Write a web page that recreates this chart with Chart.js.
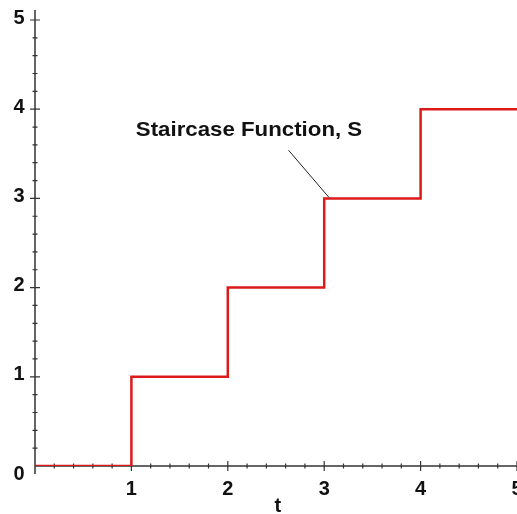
<!DOCTYPE html>
<html>
<head>
<meta charset="utf-8">
<script src="https://cdn.jsdelivr.net/npm/chart.js@4"></script>
<style>
  html, body { margin: 0; padding: 0; background: #fff; }
  canvas { display: block; }
</style>
</head>
<body>
<canvas id="stairChart" width="517" height="514"></canvas>
<script>
// data
const tValues = [0, 1, 2, 3, 4, 5];
const sValues = [0, 1, 2, 3, 4, 4];
const xTickValues = [1, 2, 3, 4, 5];
const xTickLabels = ['1', '2', '3', '4', '5'];
const yTickValues = [0, 1, 2, 3, 4, 5];
const yTickLabels = ['0', '1', '2', '3', '4', '5'];
const axisLabel = 't';
const curveLabel = 'Staircase Function, S';

const MINOR = 0.2;
const TICK_FONT = 'bold 20px "Liberation Sans", Arial, sans-serif';
const NOTE_FONT = 'bold 21px "Liberation Sans", Arial, sans-serif';

function wideText(ctx, str, x, y, stretch) {
  ctx.save();
  ctx.translate(x, y);
  ctx.scale(stretch || 1, 1);
  ctx.fillText(str, 0, 0);
  ctx.restore();
}

const axesPlugin = {
  id: 'mapleAxes',
  beforeDatasetsDraw(chart) {
    const { ctx, scales: { x, y }, chartArea } = chart;
    const x0 = x.getPixelForValue(0);
    const y0 = y.getPixelForValue(0);
    ctx.save();
    ctx.strokeStyle = '#333';
    ctx.lineWidth = 1.5;
    ctx.beginPath();
    // axes
    ctx.moveTo(x0, chartArea.top - 10);
    ctx.lineTo(x0, y0 + 8);
    ctx.moveTo(x0, y0);
    ctx.lineTo(chart.width, y0);
    ctx.stroke();

    ctx.lineWidth = 1.2;
    ctx.beginPath();
    for (let v = MINOR; v <= 5.001; v += MINOR) {
      const major = Math.abs(v - Math.round(v)) < 0.01;
      const len = major ? 5 : 2.5;
      const px = x.getPixelForValue(v);
      ctx.moveTo(px, y0 - len);
      ctx.lineTo(px, y0 + len);
      const py = y.getPixelForValue(v);
      ctx.moveTo(x0 - len, py);
      ctx.lineTo(x0 + len, py);
    }
    ctx.stroke();
    ctx.restore();
  },
  afterDraw(chart) {
    const { ctx, scales: { x, y } } = chart;
    const x0 = x.getPixelForValue(0);
    const y0 = y.getPixelForValue(0);
    ctx.save();
    ctx.fillStyle = '#111';
    ctx.font = TICK_FONT;
    ctx.textAlign = 'center';
    ctx.textBaseline = 'middle';

    yTickValues.forEach((v, i) => {
      const py = y.getPixelForValue(v) + (v === 0 ? 8 : -2);
      wideText(ctx, yTickLabels[i], x0 - 16, py);
    });
    xTickValues.forEach((v, i) => {
      wideText(ctx, xTickLabels[i], x.getPixelForValue(v), y0 + 23);
    });
    wideText(ctx, axisLabel, x.getPixelForValue(2.52), y0 + 40);

    // curve annotation
    ctx.font = NOTE_FONT;
    wideText(ctx, curveLabel, x.getPixelForValue(2.22), y.getPixelForValue(3.77), 1.06);
    ctx.strokeStyle = '#222';
    ctx.lineWidth = 1;
    ctx.beginPath();
    ctx.moveTo(x.getPixelForValue(2.63), y.getPixelForValue(3.54));
    ctx.lineTo(x.getPixelForValue(3.05), y.getPixelForValue(3.01));
    ctx.stroke();
    ctx.restore();
  }
};

const ctx = document.getElementById('stairChart').getContext('2d');
new Chart(ctx, {
  type: 'line',
  data: {
    datasets: [{
      label: curveLabel,
      data: tValues.map((t, i) => ({ x: t, y: sValues[i] })),
      borderColor: '#dd1a1a',
      borderWidth: 2.5,
      stepped: true,
      fill: false,
      pointRadius: 0
    }]
  },
  options: {
    responsive: false,
    animation: false,
    devicePixelRatio: 1,
    layout: { padding: { left: 35, top: 20, right: 0, bottom: 48 } },
    plugins: {
      legend: { display: false },
      tooltip: { enabled: false }
    },
    scales: {
      x: { type: 'linear', min: 0, max: 5, display: false },
      y: { type: 'linear', min: 0, max: 5, display: false }
    }
  },
  plugins: [axesPlugin]
});
</script>
</body>
</html>
